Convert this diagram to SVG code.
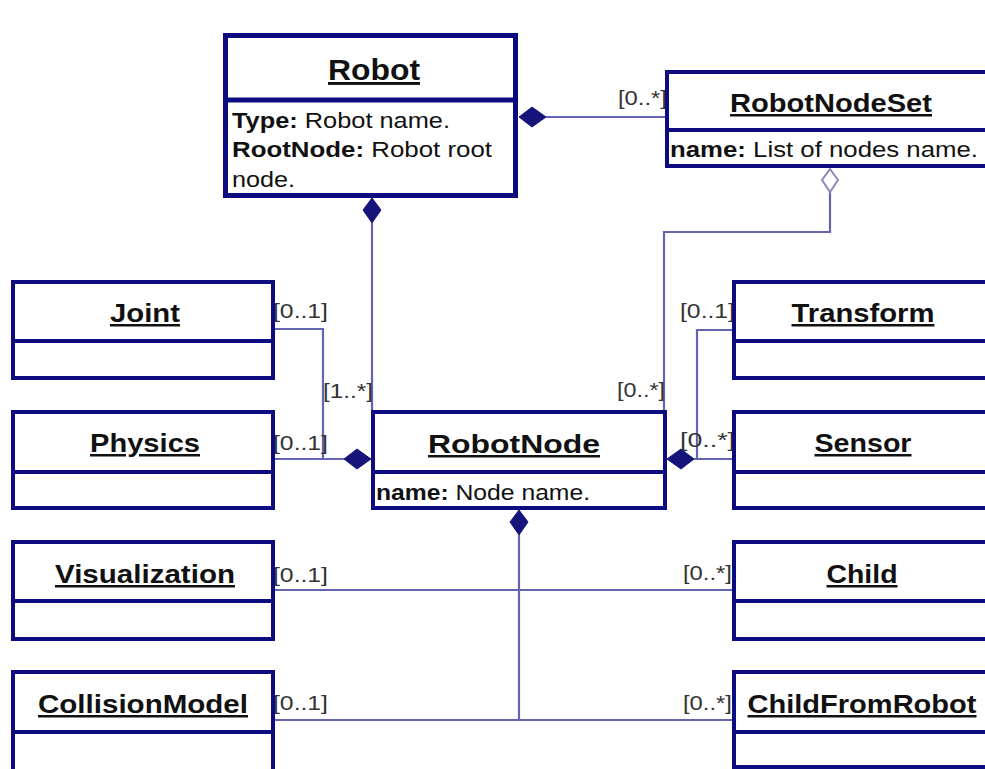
<svg xmlns="http://www.w3.org/2000/svg" width="985" height="769" viewBox="0 0 985 769">
  <style>
    .box { fill: #ffffff; stroke: #0c0c80; stroke-width: 4; }
    .sep { stroke: #0c0c80; stroke-width: 4; }
    .title { font-family: "Liberation Sans", Arial, sans-serif; font-weight: bold; font-size: 25px; fill: #111111; text-anchor: middle; text-decoration: underline; }
    .attr { font-family: "Liberation Sans", Arial, sans-serif; font-size: 22px; fill: #111111; }
    .attr .k { font-weight: bold; }
    .mult { font-family: "Liberation Sans", Arial, sans-serif; font-size: 21px; fill: #333333; }
    .link { fill: none; stroke: #6464b0; stroke-width: 2.2; }
    .comp { fill: #14147a; stroke: #14147a; stroke-width: 1; }
    .aggr { fill: #ffffff; stroke: #8a8ab8; stroke-width: 2; }
  </style>

  <rect width="985" height="769" fill="#ffffff"/>

  <!-- associations -->
  <g id="connectors">
    <!-- Robot to RobotNodeSet -->
    <path class="link" d="M546 117 H665"/>
    <path class="comp" d="M519 117 L532 107 L546 117 L532 127 Z"/>
    <text class="mult" x="618" y="105" textLength="49" lengthAdjust="spacingAndGlyphs">[0..*]</text>

    <!-- Robot to RobotNode -->
    <path class="link" d="M372 223 V410"/>
    <path class="comp" d="M372 198 L381 210 L372 223 L363 210 Z"/>
    <text class="mult" x="323" y="398" textLength="50" lengthAdjust="spacingAndGlyphs">[1..*]</text>

    <!-- RobotNodeSet aggregates RobotNode -->
    <path class="link" d="M830 192 V232 H664 V410"/>
    <path class="aggr" d="M830 169 L838 180 L830 192 L822 180 Z"/>
    <text class="mult" x="617" y="397" textLength="48" lengthAdjust="spacingAndGlyphs">[0..*]</text>

    <!-- Joint / Physics to RobotNode -->
    <path class="link" d="M275 329 H323 V459"/>
    <path class="link" d="M275 459 H344"/>
    <path class="comp" d="M371 459 L357 449 L344 459 L357 469 Z"/>
    <text class="mult" x="273" y="318" textLength="55" lengthAdjust="spacingAndGlyphs">[0..1]</text>
    <text class="mult" x="273" y="450" textLength="55" lengthAdjust="spacingAndGlyphs">[0..1]</text>

    <!-- Transform / Sensor to RobotNode -->
    <path class="link" d="M732 330 H697 V459"/>
    <path class="link" d="M732 459 H694"/>
    <path class="comp" d="M667 459 L681 449 L694 459 L681 469 Z"/>
    <text class="mult" x="680" y="318" textLength="55" lengthAdjust="spacingAndGlyphs">[0..1]</text>
    <text class="mult" x="680" y="447" textLength="55" lengthAdjust="spacingAndGlyphs">[0..*]</text>

    <!-- RobotNode bottom to Visualization, CollisionModel, Child, ChildFromRobot -->
    <path class="link" d="M519 535 V720"/>
    <path class="comp" d="M519 510 L528 522 L519 535 L510 522 Z"/>
    <path class="link" d="M275 590 H732"/>
    <path class="link" d="M275 720 H732"/>
    <text class="mult" x="273" y="582" textLength="55" lengthAdjust="spacingAndGlyphs">[0..1]</text>
    <text class="mult" x="273" y="710" textLength="55" lengthAdjust="spacingAndGlyphs">[0..1]</text>
    <text class="mult" x="683" y="580" textLength="49" lengthAdjust="spacingAndGlyphs">[0..*]</text>
    <text class="mult" x="683" y="710" textLength="49" lengthAdjust="spacingAndGlyphs">[0..*]</text>
  </g>

  <g id="robot">
    <rect class="box" x="225.5" y="35.5" width="290" height="160" style="stroke-width:5"/>
    <line class="sep" x1="225" y1="100" x2="516" y2="100" style="stroke-width:5"/>
    <text class="title" x="374" y="80" textLength="92" lengthAdjust="spacingAndGlyphs" style="font-size:29px">Robot</text>
    <text class="attr" x="232" y="128" textLength="218" lengthAdjust="spacingAndGlyphs"><tspan class="k">Type:</tspan> Robot name.</text>
    <text class="attr" x="232" y="157" textLength="260" lengthAdjust="spacingAndGlyphs"><tspan class="k">RootNode:</tspan> Robot root</text>
    <text class="attr" x="232" y="187" textLength="63" lengthAdjust="spacingAndGlyphs">node.</text>
  </g>

  <g id="robotnodeset">
    <rect class="box" x="667" y="72" width="400" height="94"/>
    <line class="sep" x1="667" y1="130" x2="990" y2="130"/>
    <text class="title" x="831" y="112" textLength="202" lengthAdjust="spacingAndGlyphs">RobotNodeSet</text>
    <text class="attr" x="670" y="157" textLength="308" lengthAdjust="spacingAndGlyphs"><tspan class="k">name:</tspan> List of nodes name.</text>
  </g>

  <g id="robotnode">
    <rect class="box" x="373" y="412" width="292" height="96"/>
    <line class="sep" x1="373" y1="472" x2="665" y2="472"/>
    <text class="title" x="514" y="453" textLength="172" lengthAdjust="spacingAndGlyphs">RobotNode</text>
    <text class="attr" x="376" y="500" textLength="214" lengthAdjust="spacingAndGlyphs"><tspan class="k">name:</tspan> Node name.</text>
  </g>

  <g id="joint">
    <rect class="box" x="13" y="282" width="260" height="96"/>
    <line class="sep" x1="13" y1="341" x2="273" y2="341"/>
    <text class="title" x="145" y="322" textLength="70" lengthAdjust="spacingAndGlyphs">Joint</text>
  </g>

  <g id="physics">
    <rect class="box" x="13" y="412" width="260" height="96"/>
    <line class="sep" x1="13" y1="472" x2="273" y2="472"/>
    <text class="title" x="145" y="452" textLength="110" lengthAdjust="spacingAndGlyphs">Physics</text>
  </g>

  <g id="visualization">
    <rect class="box" x="13" y="542" width="260" height="97"/>
    <line class="sep" x1="13" y1="601" x2="273" y2="601"/>
    <text class="title" x="145" y="583" textLength="180" lengthAdjust="spacingAndGlyphs">Visualization</text>
  </g>

  <g id="collisionmodel">
    <rect class="box" x="13" y="672" width="260" height="110"/>
    <line class="sep" x1="13" y1="732" x2="273" y2="732"/>
    <text class="title" x="143" y="713" textLength="210" lengthAdjust="spacingAndGlyphs">CollisionModel</text>
  </g>

  <g id="transform">
    <rect class="box" x="734" y="282" width="300" height="96"/>
    <line class="sep" x1="734" y1="341" x2="990" y2="341"/>
    <text class="title" x="863" y="322" textLength="143" lengthAdjust="spacingAndGlyphs">Transform</text>
  </g>

  <g id="sensor">
    <rect class="box" x="734" y="412" width="300" height="96"/>
    <line class="sep" x1="734" y1="472" x2="990" y2="472"/>
    <text class="title" x="863" y="452" textLength="97" lengthAdjust="spacingAndGlyphs">Sensor</text>
  </g>

  <g id="child">
    <rect class="box" x="734" y="542" width="300" height="97"/>
    <line class="sep" x1="734" y1="601" x2="990" y2="601"/>
    <text class="title" x="862" y="583" textLength="71" lengthAdjust="spacingAndGlyphs">Child</text>
  </g>

  <g id="childfromrobot">
    <rect class="box" x="734" y="672" width="300" height="95"/>
    <line class="sep" x1="734" y1="732" x2="990" y2="732"/>
    <text class="title" x="862" y="713" textLength="229" lengthAdjust="spacingAndGlyphs">ChildFromRobot</text>
  </g>
</svg>
